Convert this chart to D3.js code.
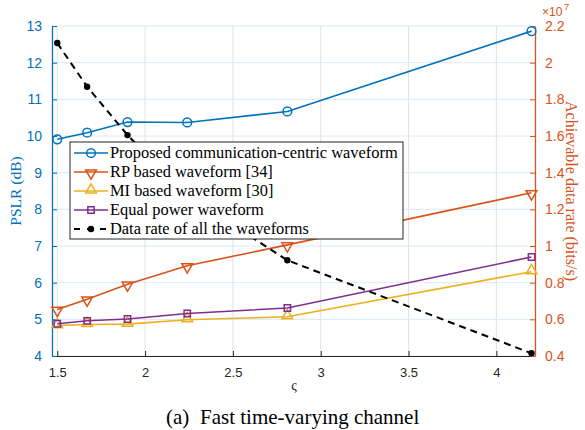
<!DOCTYPE html>
<html>
<head>
<meta charset="utf-8">
<script src="https://cdn.jsdelivr.net/npm/d3@7"></script>
<style>
  body { margin: 0; background: #fff; }
  svg { display: block; }
  .serif { font-family: 'Liberation Serif', 'Times New Roman', serif; }
  .sans { font-family: 'Liberation Sans', Arial, sans-serif; }
</style>
</head>
<body>
<svg id="chart" width="585" height="430"></svg>
<script>
/* ------------ Data ----------------*/
const sigma = [1.5, 1.67, 1.9, 2.24, 2.81, 4.2];
const proposed = [9.91, 10.09, 10.38, 10.37, 10.67, 12.86];
const rpBased = [5.27, 5.55, 5.96, 6.46, 7.03, 8.45];
const miBased = [4.83, 4.86, 4.87, 4.99, 5.07, 6.3];
const equalPower = [4.88, 4.96, 5.01, 5.16, 5.31, 6.7];
const dataRate = [2.107, 1.869, 1.605, 1.275, 0.922, 0.415]; // x 10^7 bits/s

const xTicks = [1.5, 2, 2.5, 3, 3.5, 4];
const leftTicks = [4, 5, 6, 7, 8, 9, 10, 11, 12, 13];
const rightTicks = [0.4, 0.6, 0.8, 1, 1.2, 1.4, 1.6, 1.8, 2, 2.2];

const legendLabels = [
  'Proposed communication-centric waveform',
  'RP based waveform [34]',
  'MI based waveform [30]',
  'Equal power waveform',
  'Data rate of all the waveforms'
];

/* ------------ Setup ----------------*/
const BLUE = '#0072BD', ORANGE = '#D95319', YELLOW = '#EDB120', PURPLE = '#7E2F8E';
const AXIS = '#262626';

const svg = d3.select('#chart');
const pLeft = 52, pRight = 535, pTop = 26, pBottom = 356;

const x = d3.scaleLinear().domain([1.47, 4.22]).range([pLeft, pRight]);
const yL = d3.scaleLinear().domain([4, 13]).range([pBottom, pTop]);
const yR = d3.scaleLinear().domain([0.4, 2.2]).range([pBottom, pTop]);

// grid
const grid = svg.append('g');
grid.selectAll('.vgrid').data(xTicks).join('line')
  .attr('x1', d => x(d)).attr('x2', d => x(d))
  .attr('y1', pTop).attr('y2', pBottom)
  .attr('stroke', '#dfe2e6').attr('stroke-width', 1);
grid.selectAll('.hgrid').data(leftTicks).join('line')
  .attr('x1', pLeft).attr('x2', pRight)
  .attr('y1', d => yL(d)).attr('y2', d => yL(d))
  .attr('stroke', '#dce9f4').attr('stroke-width', 1);

// axes
const xAxis = svg.append('g')
  .attr('transform', `translate(0,${pBottom})`)
  .call(d3.axisBottom(x).tickValues(xTicks).tickFormat(d3.format('~g'))
    .tickSizeInner(-5).tickSizeOuter(0).tickPadding(12));
xAxis.select('.domain').attr('stroke', AXIS);
xAxis.selectAll('line').attr('stroke', AXIS);
xAxis.selectAll('text').attr('fill', AXIS).attr('class', 'sans').attr('font-size', '13px');

const leftAxis = svg.append('g')
  .attr('transform', `translate(${pLeft},0)`)
  .call(d3.axisLeft(yL).tickValues(leftTicks).tickSizeInner(-5).tickSizeOuter(0).tickPadding(10));
leftAxis.select('.domain').attr('stroke', BLUE).attr('stroke-width', 1.3);
leftAxis.selectAll('line').attr('stroke', BLUE);
leftAxis.selectAll('text').attr('fill', BLUE).attr('class', 'sans').attr('font-size', '14px');

const rightAxis = svg.append('g')
  .attr('transform', `translate(${pRight},0)`)
  .call(d3.axisRight(yR).tickValues(rightTicks).tickFormat(d3.format('~g'))
    .tickSizeInner(-5).tickSizeOuter(0).tickPadding(10));
rightAxis.select('.domain').attr('stroke', ORANGE).attr('stroke-width', 1.3);
rightAxis.selectAll('line').attr('stroke', ORANGE);
rightAxis.selectAll('text').attr('fill', ORANGE).attr('class', 'sans').attr('font-size', '14px');

// exponent label
svg.append('text')
  .attr('x', 542).attr('y', 16)
  .attr('fill', ORANGE).attr('class', 'sans').attr('font-size', '12px')
  .text('×10');
svg.append('text')
  .attr('x', 564).attr('y', 10)
  .attr('fill', ORANGE).attr('class', 'sans').attr('font-size', '9.5px')
  .text('7');

// axis titles
svg.append('text')
  .attr('transform', `translate(21,${(pTop + pBottom) / 2}) rotate(-90)`)
  .attr('text-anchor', 'middle')
  .attr('fill', BLUE).attr('class', 'serif').attr('font-size', '15.5px')
  .text('PSLR (dB)');
svg.append('text')
  .attr('transform', `translate(566,${(pTop + pBottom) / 2}) rotate(90)`)
  .attr('text-anchor', 'middle')
  .attr('fill', ORANGE).attr('class', 'serif').attr('font-size', '16px')
  .text('Achievable data rate (bits/s)');
svg.append('text')
  .attr('x', 294).attr('y', 390)
  .attr('text-anchor', 'middle')
  .attr('fill', AXIS).attr('class', 'serif').attr('font-size', '14px')
  .text('ς');
const caption = svg.append('text')
  .attr('y', 424)
  .attr('fill', '#000').attr('class', 'serif').attr('font-size', '21px');
caption.append('tspan').attr('x', 166).text('(a)');
caption.append('tspan').attr('x', 200).text('Fast time-varying channel');

/* ------------ Series ----------------*/
const markerPath = (type, size) => {
  if (type === 'square') return d3.symbol(d3.symbolSquare, size)();
  if (type === 'triUp' || type === 'triDown') return d3.symbol(d3.symbolTriangle, size)();
  return d3.symbol(d3.symbolCircle, size)();
};

const series = [
  { values: proposed, scale: yL, color: BLUE, marker: 'circle', size: 60, dash: null },
  { values: rpBased, scale: yL, color: ORANGE, marker: 'triDown', size: 50, dash: null },
  { values: miBased, scale: yL, color: YELLOW, marker: 'triUp', size: 50, dash: null },
  { values: equalPower, scale: yL, color: PURPLE, marker: 'square', size: 40, dash: null },
  { values: dataRate, scale: yR, color: '#000', marker: 'dot', size: 30, dash: '7,5' }
];

const plot = svg.append('g');

const drawMarker = (g, s, px, py) => {
  if (s.marker === 'dot') {
    g.append('circle').attr('cx', px).attr('cy', py).attr('r', 3.2).attr('fill', '#000');
    return;
  }
  const rot = s.marker === 'triDown' ? 180 : 0;
  const dy = s.marker === 'triDown' ? 1 : (s.marker === 'triUp' ? -1 : 0);
  g.append('path')
    .attr('d', markerPath(s.marker, s.size))
    .attr('transform', `translate(${px},${py + dy}) rotate(${rot})`)
    .attr('fill', 'none')
    .attr('stroke', s.color)
    .attr('stroke-width', 1.5);
};

series.forEach(s => {
  const line = d3.line().x((d, i) => x(sigma[i])).y(d => s.scale(d));
  plot.append('path')
    .datum(s.values)
    .attr('d', line)
    .attr('fill', 'none')
    .attr('stroke', s.color)
    .attr('stroke-width', s.dash ? 2 : 1.6)
    .attr('stroke-dasharray', s.dash);
  s.values.forEach((v, i) => drawMarker(plot, s, x(sigma[i]), s.scale(v)));
});

/* ------------ Legend ----------------*/
const lg = svg.append('g').attr('transform', 'translate(70,142)');
lg.append('rect')
  .attr('width', 333).attr('height', 97)
  .attr('fill', '#fff').attr('stroke', AXIS).attr('stroke-width', 1);
series.forEach((s, i) => {
  const cy = 11 + i * 19;
  lg.append('line')
    .attr('x1', 4).attr('x2', 38).attr('y1', cy).attr('y2', cy)
    .attr('stroke', s.color).attr('stroke-width', s.dash ? 2 : 1.6)
    .attr('stroke-dasharray', s.dash ? '6,7' : null);
  drawMarker(lg, s, 21, cy);
  lg.append('text')
    .attr('x', 40).attr('y', cy + 5)
    .attr('fill', '#000').attr('class', 'serif').attr('font-size', '16.4px')
    .text(legendLabels[i]);
});
</script>
</body>
</html>
